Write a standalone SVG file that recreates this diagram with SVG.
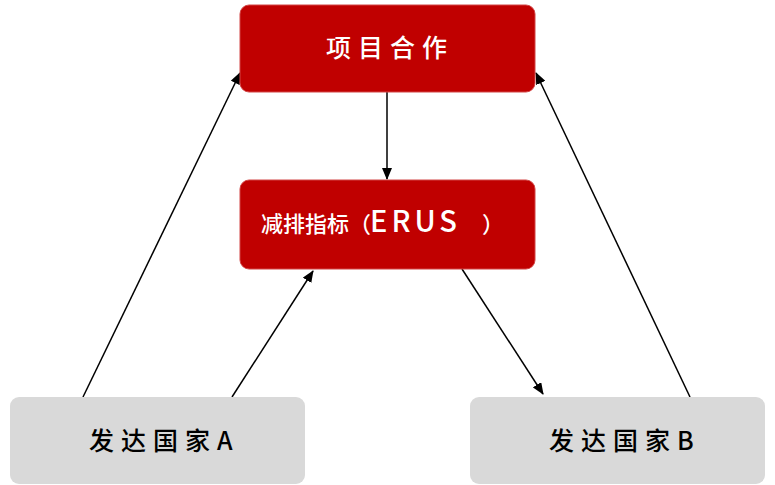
<svg xmlns="http://www.w3.org/2000/svg" width="775" height="485" viewBox="0 0 775 485">
<style>
.red{fill:#C00000;stroke:#D24545;stroke-width:1}
.gray{fill:#D9D9D9;stroke:none}
.wt{fill:#FFFFFF;font-family:"Noto Sans CJK SC","Noto Sans",sans-serif;font-weight:500}
.bt{fill:#000000;font-family:"Noto Sans CJK SC","Noto Sans",sans-serif;font-weight:500}
.ln{stroke:#000;stroke-width:1.5;fill:none;marker-end:url(#ah)}
</style>
<defs>
<marker id="ah" markerWidth="12" markerHeight="10" refX="11" refY="5" orient="auto" markerUnits="userSpaceOnUse">
<path d="M0,0 L12,5 L0,10 Z" fill="#000"/>
</marker>
</defs>
<rect width="775" height="485" fill="#FFFFFF"/>
<g id="connectors">
<line class="ln" x1="387" y1="92" x2="387" y2="179"/>
<line class="ln" x1="83" y1="397" x2="240" y2="73"/>
<line class="ln" x1="232" y1="397" x2="313" y2="271"/>
<line class="ln" x1="462" y1="269" x2="543" y2="394"/>
<line class="ln" x1="690" y1="397" x2="536" y2="73"/>
</g>
<g id="node-project">
<rect class="red" x="240" y="5" width="295" height="87" rx="9"/>
<text class="wt" x="326" y="57" font-size="25" letter-spacing="7">项目合作</text>
</g>
<g id="node-erus">
<rect class="red" x="240" y="180" width="295" height="89" rx="9"/>
<text class="wt" y="232" font-size="22"><tspan x="261">减排指标（</tspan><tspan x="370" font-size="29" letter-spacing="4">ERUS</tspan><tspan x="482">）</tspan></text>
</g>
<g id="node-a">
<rect class="gray" x="10" y="397" width="295" height="87" rx="9"/>
<text class="bt" x="89" y="450" font-size="25" letter-spacing="7">发达国家A</text>
</g>
<g id="node-b">
<rect class="gray" x="470" y="397" width="295" height="87" rx="9"/>
<text class="bt" x="549" y="450" font-size="25" letter-spacing="7">发达国家B</text>
</g>
</svg>
